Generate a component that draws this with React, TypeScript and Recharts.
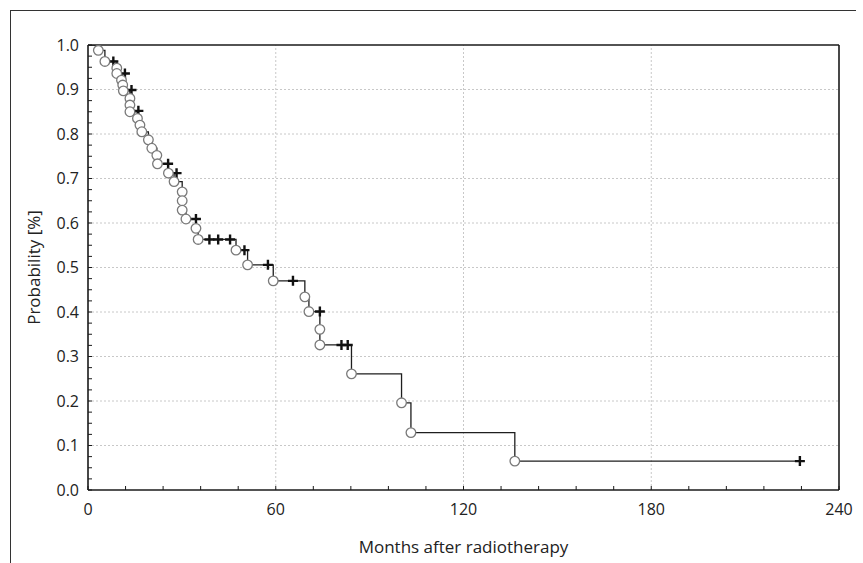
import React from 'react';
import { ComposedChart, Line, Scatter, XAxis, YAxis, ReferenceLine } from 'recharts';

// ---- data ----
const eventMonths = [3.3, 5.4, 9.2, 9.2, 10.7, 11.1, 11.3, 13.4, 13.4, 13.4, 15.8, 16.6, 17.2, 19.3, 20.4, 22.0, 22.2, 25.7, 27.5, 30.1, 30.1, 30.1, 31.3, 34.5, 35.2, 47.3, 51.0, 59.2, 69.3, 70.6, 74.1, 74.1, 84.2, 100.2, 103.2, 136.4];
const eventSurvival = [0.988, 0.963, 0.948, 0.936, 0.921, 0.910, 0.897, 0.880, 0.865, 0.850, 0.835, 0.820, 0.805, 0.787, 0.768, 0.752, 0.733, 0.712, 0.693, 0.670, 0.650, 0.629, 0.609, 0.588, 0.563, 0.539, 0.506, 0.470, 0.434, 0.401, 0.361, 0.326, 0.261, 0.196, 0.129, 0.065];
const censorMonths = [8.1, 11.8, 13.9, 16.1, 25.6, 28.3, 34.5, 38.8, 41.6, 45.4, 50.0, 57.5, 65.5, 74.1, 81.0, 83.0, 227.5];
const censorSurvival = [0.963, 0.936, 0.899, 0.852, 0.733, 0.712, 0.609, 0.563, 0.563, 0.563, 0.539, 0.506, 0.470, 0.401, 0.326, 0.326, 0.065];

const xMajorTicks = [0, 60, 120, 180, 240];
const xMinorTicks = [0, 12, 24, 36, 48, 60, 72, 84, 96, 108, 120, 132, 144, 156, 168, 180, 192, 204, 216, 228, 240];
const yMajorTicks = [0, 0.1, 0.2, 0.3, 0.4, 0.5, 0.6, 0.7, 0.8, 0.9, 1.0];
const yMinorTicks = Array.from({ length: 41 }, (_, i) => i / 40);
const xGridValues = [60, 120, 180];
const yGridValues = [0.1, 0.2, 0.3, 0.4, 0.5, 0.6, 0.7, 0.8, 0.9];

const X_TITLE = 'Months after radiotherapy';
const Y_TITLE = 'Probability [%]';

const events = eventMonths.map((m, i) => ({ m, s: eventSurvival[i] }));
const censored = censorMonths.map((m, i) => ({ m, s: censorSurvival[i] }));
const curve = [
  { m: 0, s: 1 },
  ...events,
  { m: censorMonths[censorMonths.length - 1], s: censorSurvival[censorSurvival.length - 1] },
];

const FONT = '"Open Sans", sans-serif';
const TEXT = '#222';
const AXIS = '#1a1a1a';
const TICK_FS = 16;
const TITLE_FS = 17;

const isMajorY = (v: number) => yMajorTicks.some((t) => Math.abs(t - v) < 1e-6);

const XTick = (props: any) => {
  const { x, y, payload } = props;
  if (!xMajorTicks.includes(payload.value)) return <g />;
  return (
    <text x={x} y={y} dy="0.71em" textAnchor="middle" fontSize={TICK_FS} fill={TEXT} fontFamily={FONT}>
      {payload.value}
    </text>
  );
};

const YTick = (props: any) => {
  const { x, y, payload } = props;
  if (!isMajorY(payload.value)) return <g />;
  return (
    <text x={x} y={y} dy="0.36em" textAnchor="end" fontSize={TICK_FS} fill={TEXT} fontFamily={FONT}>
      {Number(payload.value).toFixed(1)}
    </text>
  );
};

const YTitle = (p: any) => {
  const vb = p.viewBox || { x: 0, y: 45, width: 88, height: 445 };
  const cx = vb.x + 33;
  const cy = vb.y + vb.height / 2;
  return (
    <text
      x={cx}
      y={cy}
      transform={`rotate(-90 ${cx} ${cy})`}
      textAnchor="middle"
      dominantBaseline="central"
      fontSize={TITLE_FS}
      fill={TEXT}
      fontFamily={FONT}
    >
      {Y_TITLE}
    </text>
  );
};

const XTitle = (p: any) => {
  const vb = p.viewBox || { x: 88, y: 490, width: 751, height: 73 };
  return (
    <text x={vb.x + vb.width / 2} y={vb.y + 63} textAnchor="middle" fontSize={TITLE_FS} fill={TEXT} fontFamily={FONT}>
      {X_TITLE}
    </text>
  );
};

const Cross = (props: any) => {
  const { cx, cy } = props;
  if (cx == null || cy == null) return <g />;
  return (
    <path
      d={`M${cx - 5},${cy}H${cx + 5}M${cx},${cy - 5}V${cy + 5}`}
      stroke="#111"
      strokeWidth={2.4}
      fill="none"
    />
  );
};

const Ring = (props: any) => {
  const { cx, cy } = props;
  if (cx == null || cy == null) return <g />;
  return <circle cx={cx} cy={cy} r={4.8} fill="#fff" stroke="#7a7a7a" strokeWidth={1.3} />;
};

export default function App() {
  return (
    <div style={{ position: 'absolute', left: 0, top: 0, width: 863, height: 563, background: '#fff', overflow: 'hidden' }}>
      <div
        style={{
          position: 'absolute',
          left: 10,
          top: 10,
          width: 845,
          height: 600,
          borderTop: '1px solid #333',
          borderLeft: '1px solid #333',
        }}
      />
      <div style={{ position: 'absolute', left: 0, top: 0 }}>
        <ComposedChart width={863} height={563} margin={{ top: 44, right: 23, bottom: 0, left: 0 }}>
          <XAxis
            xAxisId="main"
            type="number"
            dataKey="m"
            domain={[0, 240]}
            allowDataOverflow
            ticks={xMinorTicks}
            interval={0}
            height={73}
            tickSize={-4}
            tickMargin={18}
            tick={<XTick />}
            tickLine={{ stroke: AXIS, strokeWidth: 1 }}
            axisLine={{ stroke: AXIS, strokeWidth: 1.6 }}
            label={XTitle}
          />
          <XAxis
            xAxisId="top"
            orientation="top"
            type="number"
            dataKey="m"
            domain={[0, 240]}
            allowDataOverflow
            ticks={xMinorTicks}
            interval={0}
            height={1}
            tickSize={-4}
            tick={false}
            tickLine={{ stroke: AXIS, strokeWidth: 1 }}
            axisLine={{ stroke: AXIS, strokeWidth: 1.6 }}
          />
          <YAxis
            yAxisId="main"
            type="number"
            domain={[0, 1]}
            allowDataOverflow
            ticks={yMinorTicks}
            interval={0}
            width={88}
            tickSize={-4}
            tickMargin={13}
            tick={<YTick />}
            tickLine={{ stroke: AXIS, strokeWidth: 1 }}
            axisLine={{ stroke: AXIS, strokeWidth: 1.6 }}
            label={YTitle}
          />
          <YAxis
            yAxisId="right"
            orientation="right"
            type="number"
            domain={[0, 1]}
            allowDataOverflow
            ticks={yMinorTicks}
            interval={0}
            width={1}
            tickSize={-4}
            tick={false}
            tickLine={{ stroke: AXIS, strokeWidth: 1 }}
            axisLine={{ stroke: AXIS, strokeWidth: 1.6 }}
          />
          {xGridValues.map((v) => (
            <ReferenceLine key={'gx' + v} xAxisId="main" yAxisId="main" x={v} stroke="#c8c8c8" strokeDasharray="2 2" />
          ))}
          {yGridValues.map((v) => (
            <ReferenceLine key={'gy' + v} xAxisId="main" yAxisId="main" y={v} stroke="#c8c8c8" strokeDasharray="2 2" />
          ))}
          <Line
            xAxisId="main"
            yAxisId="main"
            data={curve}
            dataKey="s"
            type="stepAfter"
            stroke="#1e1e1e"
            strokeWidth={1.3}
            dot={false}
            activeDot={false}
            isAnimationActive={false}
          />
          <Scatter
            xAxisId="main"
            yAxisId="main"
            data={censored}
            dataKey="s"
            shape={Cross}
            isAnimationActive={false}
          />
          <Scatter
            xAxisId="main"
            yAxisId="main"
            data={events}
            dataKey="s"
            shape={Ring}
            isAnimationActive={false}
          />
        </ComposedChart>
      </div>
    </div>
  );
}
